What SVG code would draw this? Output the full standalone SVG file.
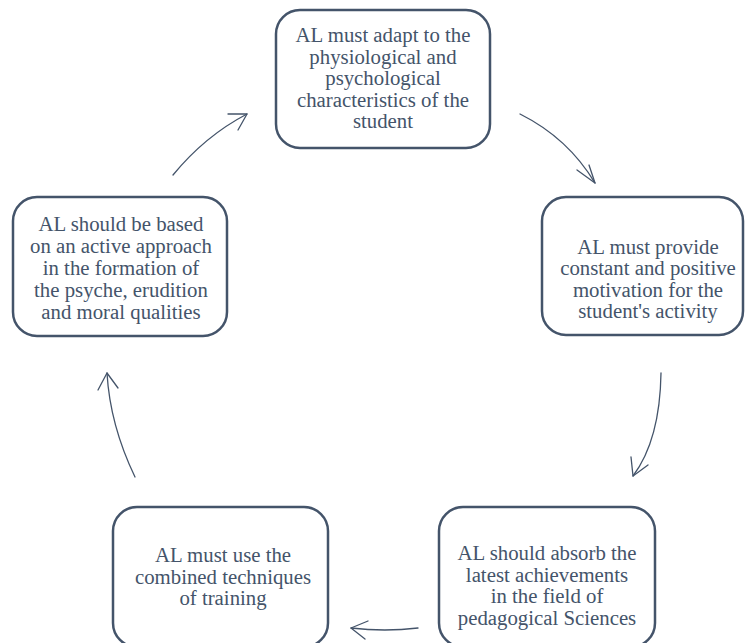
<svg xmlns="http://www.w3.org/2000/svg" width="746" height="643" viewBox="0 0 746 643">
<style>
.box{fill:#fff;stroke:#44546A;stroke-width:2.5}
.t{font-family:"Liberation Serif","Times New Roman",serif;font-size:20.8px;fill:#44546A;text-anchor:middle}
.c{fill:none;stroke:#44546A;stroke-width:1.3;stroke-linecap:round;stroke-linejoin:round}
</style>
<rect width="746" height="643" fill="#fff"/>
<g id="n1">
<rect class="box" x="276" y="10" width="214" height="138" rx="24"/>
<text class="t" x="383" y="42">AL must adapt to the</text>
<text class="t" x="383" y="63.5">physiological and</text>
<text class="t" x="383" y="85">psychological</text>
<text class="t" x="383" y="106.5">characteristics of the</text>
<text class="t" x="383" y="128">student</text>
</g>
<g id="n2">
<rect class="box" x="542" y="197" width="201" height="138" rx="24"/>
<text class="t" x="648" y="254">AL must provide</text>
<text class="t" x="648" y="275">constant and positive</text>
<text class="t" x="648" y="296.5">motivation for the</text>
<text class="t" x="648" y="318">student's activity</text>
</g>
<g id="n3">
<rect class="box" x="439" y="507" width="216" height="140" rx="24"/>
<text class="t" x="547" y="560">AL should absorb the</text>
<text class="t" x="547" y="581.5">latest achievements</text>
<text class="t" x="547" y="603">in the field of</text>
<text class="t" x="547" y="624.5">pedagogical Sciences</text>
</g>
<g id="n4">
<rect class="box" x="113" y="507" width="215" height="140" rx="24"/>
<text class="t" x="223" y="562">AL must use the</text>
<text class="t" x="223" y="583.5">combined techniques</text>
<text class="t" x="223" y="605">of training</text>
</g>
<g id="n5">
<rect class="box" x="13" y="197" width="214" height="139" rx="24"/>
<text class="t" x="121" y="231">AL should be based</text>
<text class="t" x="121" y="253">on an active approach</text>
<text class="t" x="121" y="275">in the formation of</text>
<text class="t" x="121" y="297">the psyche, erudition</text>
<text class="t" x="121" y="318.5">and moral qualities</text>
</g>
<g id="connectors">
<path class="c" d="M173,175 Q205,136 247,114"/>
<path class="c" d="M228,114 L247,114 L238,130"/>
<path class="c" d="M520,114 Q568,138 595,183"/>
<path class="c" d="M577,170 L595,183 L589,165"/>
<path class="c" d="M661,373 Q660,440 633,476"/>
<path class="c" d="M631,457 L633,476 L648,465"/>
<path class="c" d="M418,628 Q385,632 351,628"/>
<path class="c" d="M368,621 L351,628 L365,639"/>
<path class="c" d="M135,477 Q110,425 107,373"/>
<path class="c" d="M98,390 L107,373 L118,388"/>
</g>
</svg>
